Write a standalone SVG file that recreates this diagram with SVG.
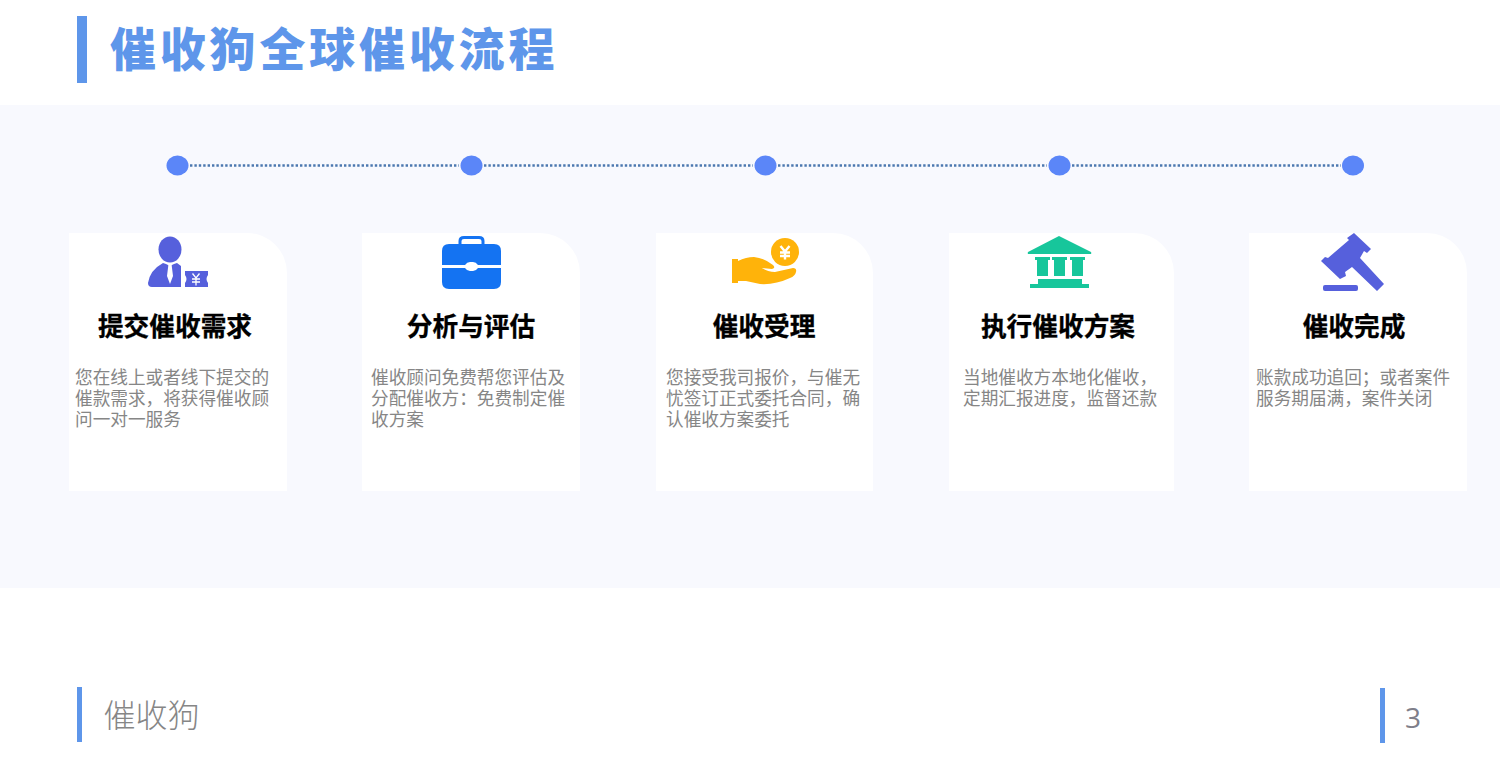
<svg xmlns="http://www.w3.org/2000/svg" width="1500" height="772" viewBox="0 0 1500 772">
<style>
text{font-family:"Noto Sans CJK SC","Liberation Sans",sans-serif}
.bar{fill:#5e96ea}
.title{font-size:46px;font-weight:900;fill:#5e96ea;letter-spacing:3.800px}
.h{font-size:25.700px;font-weight:700;fill:#000;text-anchor:middle;stroke:#000;stroke-width:.3px}
.d{font-size:17.650px;fill:#868686}
.card{fill:#fff}
.dot{fill:#5b86f8}
.link{stroke:#4c78b0;stroke-width:2.500;stroke-dasharray:2.400 2;fill:none}
.foot{font-size:32px;fill:#868686;font-weight:300}
</style>
<rect width="1500" height="772" fill="#fff"/>
<rect y="105" width="1500" height="483" fill="#f8f9fe"/>
<g id="header">
<rect class="bar" x="77" y="16" width="10" height="67"/>
<text class="title" x="110" y="66">催收狗全球催收流程</text>
</g>
<g id="connectors">
<line class="link" x1="190" y1="165.500" x2="459" y2="165.500"/>
<line class="link" x1="484" y1="165.500" x2="753" y2="165.500"/>
<line class="link" x1="778" y1="165.500" x2="1047" y2="165.500"/>
<line class="link" x1="1072" y1="165.500" x2="1341" y2="165.500"/>
</g>
<g id="dots">
<ellipse class="dot" cx="177.500" cy="165.500" rx="11" ry="10"/>
<ellipse class="dot" cx="471.500" cy="165.500" rx="11" ry="10"/>
<ellipse class="dot" cx="765.500" cy="165.500" rx="11" ry="10"/>
<ellipse class="dot" cx="1059.500" cy="165.500" rx="11" ry="10"/>
<ellipse class="dot" cx="1353" cy="165.500" rx="11" ry="10"/>
</g>
<g id="node1">
<path class="card" d="M69 233H247a40 40 0 0 1 40 40V491H69Z"/>
<g fill="#5660dc">
<ellipse cx="170" cy="249.500" rx="11.500" ry="13"/>
<path d="M163 263L166 264L170 266L174 264L177 263L181 266V287H152Q148 287 148 283Q150 270 163 263Z"/>
<path d="M185 271H208V275Q205 279 208 283V287H185V283Q188 279 185 275Z"/>
</g>
<path d="M168.500 264H171.500L173 276L170 284L167 276Z" fill="#fff"/>
<path d="M192.500 273.500L196 278L199.500 273.500M192 279H200M192 282H200M196 278V285.500" fill="none" stroke="#fff" stroke-width="1.300"/>
<text class="h" x="175" y="336">提交催收需求</text>
<text class="d"><tspan x="75" y="384">您在线上或者线下提交的</tspan><tspan x="75" y="405">催款需求，将获得催收顾</tspan><tspan x="75" y="426">问一对一服务</tspan></text>
</g>
<g id="node2">
<path class="card" d="M362 233H540a40 40 0 0 1 40 40V491H362Z"/>
<path d="M460 245V241Q460 237.500 464 237.500H479Q483 237.500 483 241V245" fill="none" stroke="#1473f2" stroke-width="3"/>
<path d="M449 244H494Q501 244 501 251V265H478Q476 262 473 262H470Q467 262 465 265H442V251Q442 244 449 244Z" fill="#1473f2"/>
<path d="M442 268H465Q467 271 470 271H473Q476 271 478 268H501V282Q501 289 494 289H449Q442 289 442 282Z" fill="#1473f2"/>
<text class="h" x="471" y="336">分析与评估</text>
<text class="d"><tspan x="371" y="384">催收顾问免费帮您评估及</tspan><tspan x="371" y="405">分配催收方：免费制定催</tspan><tspan x="371" y="426">收方案</tspan></text>
</g>
<g id="node3">
<path class="card" d="M656 233H833a40 40 0 0 1 40 40V491H656Z"/>
<g fill="#ffb30a">
<circle cx="785" cy="252" r="14"/>
<path d="M732 259H738V261Q746 257 754 257Q764 258 773 265Q776 268 772 269L762 268Q768 272 775 272L793 268Q797 268 796 272Q795 276 790 278Q775 285 760 284L746 281H738V283H732Z"/>
</g>
<path d="M780.500 246L785 251.500L789.500 246M780 252.500H790M780 256H790M785 251.500V259.500" fill="none" stroke="#fff" stroke-width="2.400"/>
<text class="h" x="764" y="336">催收受理</text>
<text class="d"><tspan x="666" y="384">您接受我司报价，与催无</tspan><tspan x="666" y="405">忧签订正式委托合同，确</tspan><tspan x="666" y="426">认催收方案委托</tspan></text>
</g>
<g id="node4">
<path class="card" d="M949 233H1134a40 40 0 0 1 40 40V491H949Z"/>
<g fill="#17c69b">
<path d="M1059 236L1091 252Q1092 254 1090 254H1029Q1027 254 1028 252Z"/>
<path d="M1035 257H1050V260H1048V276H1037V260H1035ZM1052 257H1067V260H1065V276H1054V260H1052ZM1070 257H1085V260H1083V276H1072V260H1070Z"/>
<path d="M1038 279H1082V284H1089V288H1030V284H1038Z"/>
</g>
<text class="h" x="1058" y="336">执行催收方案</text>
<text class="d"><tspan x="963" y="384">当地催收方本地化催收，</tspan><tspan x="963" y="405">定期汇报进度，监督还款</tspan></text>
</g>
<g id="node5">
<path class="card" d="M1249 233H1427a40 40 0 0 1 40 40V491H1249Z"/>
<g fill="#5660dc">
<path d="M1354 233L1371 249L1367 253L1364 251L1360 258L1384 284L1377 291L1352 267L1345 272L1346 276L1340 279L1321 261L1325 257L1328 258L1349 240L1347 238Z"/>
<rect x="1323" y="285" width="35" height="6" rx="2"/>
</g>
<text class="h" x="1354" y="336">催收完成</text>
<text class="d"><tspan x="1256" y="384">账款成功追回；或者案件</tspan><tspan x="1256" y="405">服务期届满，案件关闭</tspan></text>
</g>
<g id="footer">
<rect class="bar" x="77" y="687" width="5" height="55"/>
<text class="foot" x="103.500" y="727">催收狗</text>
<rect class="bar" x="1380" y="688" width="5" height="55"/>
<text x="1405" y="728" font-size="28" fill="#7f7f8a" style="font-family:'Open Sans','Noto Sans',sans-serif">3</text>
</g>
</svg>
